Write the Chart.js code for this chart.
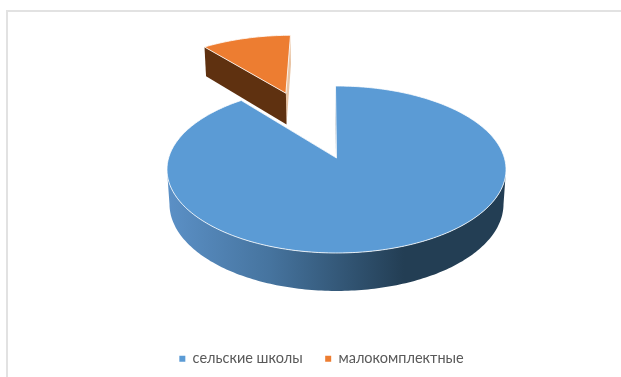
<!DOCTYPE html>
<html>
<head>
<meta charset="utf-8">
<title>Школы</title>
<script src="https://cdn.jsdelivr.net/npm/chart.js@4"></script>
<style>
  html, body { margin: 0; width: 621px; height: 377px; overflow: hidden; background: #fff; }
  #frame { position: absolute; left: 6px; top: 10px; right: 0; bottom: 0; border-left: 2px solid #e2e2e2; border-top: 2px solid #e2e2e2; }
  #pie { position: absolute; left: 0; top: 0; }
</style>
</head>
<body>
<div id="frame"></div>
<canvas id="pie" width="643" height="376"></canvas>
<script>
const categories = ["сельские школы", "малокомплектные"];
const shares = [89.3, 10.7];

const topColors = ["#5b9bd5", "#ed7d31"];
const startFaceColors = ["#6b7d8e", "#5f3110"];
const endFaceColors = ["#5b9bd5", "#e9c4a4"];
const explode = [0, 0.95];
const explodeTurn = [0, -0.021];

// camera used for the tilted disc: u, v on the unit disc, z = 0 top, z = 1 bottom
const cam = { cx: 336.5, cy: 158, sx: 167.9, sy: 60.15, persp: -0.1377, depth: 37, shrink: 0.0147 };

function project(u, v, z) {
  const w = 1 + cam.persp * v + cam.shrink * z;
  return { x: cam.cx + (cam.sx * u) / w, y: (cam.sy * v + cam.cy + cam.depth * z) / w };
}

function trace(ctx, points) {
  ctx.beginPath();
  points.forEach((p, i) => (i ? ctx.lineTo(p.x, p.y) : ctx.moveTo(p.x, p.y)));
  ctx.closePath();
}

function rim(start, end, du, dv, z) {
  const steps = Math.max(2, Math.ceil(((end - start) * 180) / Math.PI));
  const points = [];
  for (let i = 0; i <= steps; i++) {
    const a = start + ((end - start) * i) / steps;
    points.push(project(Math.cos(a) + du, Math.sin(a) + dv, z));
  }
  return points;
}

function radialFace(a, du, dv) {
  return [
    project(du, dv, 0),
    project(Math.cos(a) + du, Math.sin(a) + dv, 0),
    project(Math.cos(a) + du, Math.sin(a) + dv, 1),
    project(du, dv, 1),
  ];
}

function wallGradient(ctx) {
  const g = ctx.createLinearGradient(168, 0, 505, 0);
  g.addColorStop(0, "#5b90c6");
  g.addColorStop(0.3, "#46749f");
  g.addColorStop(0.7, "#233e54");
  g.addColorStop(1, "#233e54");
  return g;
}

// the library lays out the arcs, this draws them as a thick tilted disc
const tiltedPie = {
  id: "tiltedPie",
  beforeDatasetsDraw(chart) {
    const ctx = chart.ctx;
    const arcs = chart.getDatasetMeta(0).data;
    const wallFrom = Math.asin(-cam.persp);
    const wallTo = Math.PI - wallFrom;

    ctx.save();
    [1, 0].forEach((i) => {
      const { startAngle, endAngle } = arcs[i];
      const mid = (startAngle + endAngle) / 2 + explodeTurn[i];
      const du = Math.cos(mid) * explode[i];
      const dv = Math.sin(mid) * explode[i];

      ctx.fillStyle = endFaceColors[i];
      trace(ctx, radialFace(endAngle, du, dv));
      ctx.fill();
      ctx.fillStyle = startFaceColors[i];
      trace(ctx, radialFace(startAngle, du, dv));
      ctx.fill();

      const from = Math.max(startAngle, wallFrom);
      const to = Math.min(endAngle, wallTo);
      if (to > from) {
        ctx.fillStyle = wallGradient(ctx);
        trace(ctx, rim(from, to, du, dv, 0).concat(rim(from, to, du, dv, 1).reverse()));
        ctx.fill();
      }

      trace(ctx, [project(du, dv, 0)].concat(rim(startAngle, endAngle, du, dv, 0)));
      ctx.fillStyle = topColors[i];
      ctx.fill();
      ctx.strokeStyle = "rgba(255,255,255,0.8)";
      ctx.lineWidth = 1;
      ctx.stroke();
    });
    ctx.restore();
    return false;
  },
};

new Chart(document.getElementById("pie"), {
  type: "pie",
  data: {
    labels: categories,
    datasets: [{ data: shares, backgroundColor: topColors, borderWidth: 0 }],
  },
  options: {
    responsive: false,
    animation: false,
    rotation: -0.4,
    plugins: {
      tooltip: { enabled: false },
      legend: {
        position: "bottom",
        labels: {
          boxWidth: 6,
          boxHeight: 6,
          padding: 22.5,
          color: "#595959",
          font: { family: "Lato", size: 14.5 },
        },
      },
    },
  },
  plugins: [tiltedPie],
});
</script>
</body>
</html>
